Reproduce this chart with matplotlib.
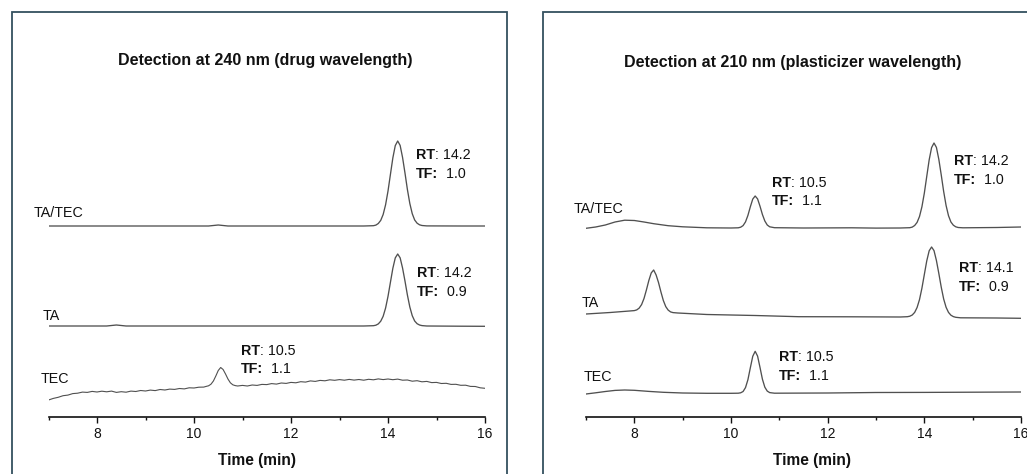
import matplotlib
matplotlib.use("Agg")
import matplotlib.pyplot as plt
from matplotlib.patches import Rectangle

plt.rcParams['font.family'] = ['Liberation Sans', 'DejaVu Sans']

# ---------------- data (time in min, signal in arbitrary stacked units) ----------------
titles = ["Detection at 240 nm (drug wavelength)",
          "Detection at 210 nm (plasticizer wavelength)"]
sample_names = ["TA/TEC", "TA", "TEC"]
x_label = "Time (min)"
x_ticks = [8, 10, 12, 14, 16]

# 240 nm
l_tatec_t = [7.0, 8.0, 9.0, 10.3, 10.5, 10.7, 11.5, 12.5, 13.5,
             13.70, 13.75, 13.80, 13.85, 13.90, 13.95, 14.00, 14.05, 14.10, 14.15, 14.20,
             14.25, 14.30, 14.35, 14.40, 14.45, 14.50, 14.55, 14.60, 14.65, 14.70, 14.80, 15.5, 16.0]
l_tatec_y = [191.0, 191.0, 191.0, 191.0, 192.0, 191.0, 191.0, 191.0, 191.0,
             191.3, 191.9, 193.5, 196.6, 202.5, 212.2, 225.9, 242.6, 259.1, 271.4, 276.0,
             271.6, 259.6, 244.0, 227.5, 213.5, 203.3, 197.0, 193.8, 192.2, 191.5, 191.1, 191.0, 191.0]

l_ta_t = [7.0, 8.2, 8.4, 8.6, 9.5, 10.5, 11.5, 12.5, 13.5,
          13.70, 13.75, 13.80, 13.85, 13.90, 13.95, 14.00, 14.05, 14.10, 14.15, 14.20,
          14.25, 14.30, 14.35, 14.40, 14.45, 14.50, 14.55, 14.60, 14.65, 14.70, 14.80, 15.5, 16.0]
l_ta_y = [91.0, 91.0, 92.0, 91.0, 91.0, 91.0, 91.0, 91.0, 91.0,
          91.3, 91.8, 93.1, 95.8, 100.7, 108.9, 120.6, 134.7, 148.7, 159.1, 163.0,
          159.2, 149.0, 136.0, 122.0, 110.0, 101.3, 96.0, 93.3, 92.0, 91.4, 91.0, 90.8, 90.7]

l_tec_t = [7.0, 7.1, 7.2, 7.3, 7.4, 7.5, 7.6, 7.7, 7.8, 7.9, 8.0, 8.1, 8.2, 8.3, 8.4, 8.5,
           8.6, 8.7, 8.8, 8.9, 9.0, 9.1, 9.2, 9.3, 9.4, 9.5, 9.6, 9.7, 9.8, 9.9, 10.0,
           10.1, 10.2, 10.25, 10.3, 10.35, 10.40, 10.45, 10.50, 10.55, 10.60, 10.65,
           10.70, 10.75, 10.80, 10.85, 10.9, 11.0, 11.1, 11.2, 11.3, 11.4, 11.5, 11.6,
           11.7, 11.8, 11.9, 12.0, 12.1, 12.2, 12.3, 12.4, 12.5, 12.6, 12.7, 12.8, 12.9,
           13.0, 13.1, 13.2, 13.3, 13.4, 13.5, 13.6, 13.7, 13.8, 13.9, 14.0, 14.1, 14.2,
           14.3, 14.4, 14.5, 14.6, 14.7, 14.8, 14.9, 15.0, 15.1, 15.2, 15.3, 15.4, 15.5,
           15.6, 15.7, 15.8, 15.9, 16.0]
l_tec_y = [17.0, 18.6, 19.7, 21.3, 21.9, 23.4, 23.8, 24.9, 24.6, 25.6, 25.0, 25.8, 25.2, 25.9, 24.6, 25.3,
           24.8, 25.9, 25.5, 26.5, 26.0, 26.9, 26.4, 27.5, 27.0, 27.9, 27.6, 28.5, 28.1, 29.2, 29.0,
           29.8, 29.9, 30.6, 31.2, 32.8, 36.0, 41.0, 46.5, 49.5, 47.5, 43.0,
           38.0, 34.2, 32.2, 31.4, 31.0, 31.6, 31.0, 32.0, 31.6, 32.6, 32.4, 33.4,
           32.9, 34.0, 33.6, 34.6, 34.2, 35.3, 34.9, 36.1, 35.6, 36.6, 36.2, 37.2, 36.7,
           37.4, 36.8, 37.6, 36.9, 37.5, 36.8, 37.7, 37.2, 38.1, 37.4, 38.0, 37.3, 37.9,
           36.8, 37.0, 35.8, 36.3, 35.2, 35.6, 34.4, 34.6, 33.5, 33.7, 32.6, 32.7, 31.7,
           31.8, 30.6, 30.5, 29.2, 28.7]

# 210 nm
r_tatec_t = [7.0, 7.2, 7.4, 7.6, 7.8, 8.0, 8.2, 8.4, 8.7, 9.0, 9.5, 10.0, 10.15,
             10.20, 10.25, 10.30, 10.35, 10.40, 10.45, 10.50, 10.55, 10.60, 10.65, 10.70,
             10.75, 10.80, 10.90, 11.5, 12.5, 13.0, 13.5,
             13.70, 13.75, 13.80, 13.85, 13.90, 13.95, 14.00, 14.05, 14.10, 14.15, 14.20,
             14.25, 14.30, 14.35, 14.40, 14.45, 14.50, 14.55, 14.60, 14.65, 14.70, 14.80, 15.5, 16.0]
r_tatec_y = [188.7, 190.0, 192.0, 195.0, 196.8, 196.5, 195.0, 193.3, 191.3, 190.2, 189.2, 189.0, 189.2,
             189.8, 191.4, 195.1, 201.6, 210.2, 217.9, 221.0, 218.1, 210.8, 202.5, 196.0,
             192.0, 190.2, 189.3, 189.0, 189.2, 188.9, 189.0,
             189.3, 189.9, 191.5, 194.6, 200.5, 210.2, 223.9, 240.6, 257.1, 269.4, 274.0,
             269.6, 257.6, 242.0, 225.5, 211.5, 201.3, 195.0, 191.8, 190.2, 189.5, 189.2, 189.5, 190.0]

r_ta_t = [7.0, 7.5, 7.9,
          8.00, 8.05, 8.10, 8.15, 8.20, 8.25, 8.30, 8.35, 8.40, 8.45, 8.50, 8.55, 8.60,
          8.65, 8.70, 8.75, 8.80, 8.90, 9.5, 10.5, 11.4, 12.5, 13.5,
          13.65, 13.70, 13.75, 13.80, 13.85, 13.90, 13.95, 14.00, 14.05, 14.10, 14.15,
          14.20, 14.25, 14.30, 14.35, 14.40, 14.45, 14.50, 14.55, 14.60, 14.65, 14.75, 15.5, 16.0]
r_ta_y = [103.0, 104.5, 106.0,
          106.4, 107.1, 108.9, 112.4, 118.5, 127.1, 136.5, 144.1, 147.0, 142.1, 134.5, 125.1, 116.5,
          110.4, 106.9, 105.1, 104.4, 104.0, 102.5, 101.5, 100.3, 100.2, 100.0,
          100.3, 100.8, 102.0, 104.6, 109.5, 117.4, 128.8, 142.5, 156.1, 166.2, 170.0,
          166.4, 156.5, 143.5, 129.8, 118.0, 109.7, 104.6, 101.8, 100.4, 99.7, 99.2, 99.0, 98.7]

r_tec_t = [7.0, 7.2, 7.4, 7.6, 7.8, 8.0, 8.3, 8.6, 9.0, 9.5, 10.0, 10.15,
           10.20, 10.25, 10.30, 10.35, 10.40, 10.45, 10.50, 10.55, 10.60, 10.65, 10.70,
           10.75, 10.80, 10.90, 12.0, 13.0, 14.0, 15.0, 16.0]
r_tec_y = [23.0, 24.2, 25.5, 26.6, 27.0, 26.7, 25.6, 24.7, 24.0, 23.7, 23.7, 23.8,
           24.2, 25.5, 29.4, 37.3, 49.2, 60.7, 65.7, 60.9, 49.6, 37.8, 29.8,
           25.9, 24.4, 23.8, 24.0, 24.5, 24.6, 24.8, 25.0]

# peak annotations: retention time and tailing factor
l_rt = ["14.2", "14.2", "10.5"]
l_tf = ["1.0", "0.9", "1.1"]
r_rt = ["10.5", "14.2", "14.1", "10.5"]
r_tf = ["1.1", "1.0", "0.9", "1.1"]

# ---------------- layout ----------------
W, H = 1027, 474
fig = plt.figure(figsize=(W / 100, H / 100), dpi=100)
fig.patch.set_facecolor('white')

frame_col = '#34505f'
fig.patches.append(Rectangle((11.7 / W, -0.1), 495 / W, (H - 12.3) / H + 0.1,
                             transform=fig.transFigure, fill=False,
                             edgecolor=frame_col, linewidth=1.3))
fig.patches.append(Rectangle((542.7 / W, -0.1), 0.6, (H - 12.0) / H + 0.1,
                             transform=fig.transFigure, fill=False,
                             edgecolor=frame_col, linewidth=1.3))

y_bottom = 417
y_top = 100
axL = fig.add_axes([48.5 / W, (H - y_bottom) / H, (485 - 48.5) / W, (y_bottom - y_top) / H])
axR = fig.add_axes([586 / W, (H - y_bottom) / H, (1021 - 586) / W, (y_bottom - y_top) / H])

line_col = '#505050'
text_col = '#111111'

for ax in (axL, axR):
    ax.set_xlim(7, 16)
    ax.set_ylim(0, y_bottom - y_top)
    ax.patch.set_alpha(0)
    for s in ('top', 'right', 'left'):
        ax.spines[s].set_visible(False)
    ax.spines['bottom'].set_linewidth(1.2)
    ax.spines['bottom'].set_color('#111111')
    ax.set_yticks([])
    ax.set_xticks(x_ticks)
    ax.set_xticks([7, 9, 11, 13, 15], minor=True)
    ax.tick_params(axis='x', which='major', direction='out', length=4.5, width=1.0,
                   labelsize=10, pad=2.5, colors='#111111')
    ax.tick_params(axis='x', which='minor', direction='out', length=2.2, width=1.0,
                   colors='#111111')

axL.plot(l_tatec_t, l_tatec_y, color=line_col, lw=0.95)
axL.plot(l_ta_t, l_ta_y, color=line_col, lw=0.95)
axL.plot(l_tec_t, l_tec_y, color=line_col, lw=0.8)

axR.plot(r_tatec_t, r_tatec_y, color=line_col, lw=0.95)
axR.plot(r_ta_t, r_ta_y, color=line_col, lw=0.95)
axR.plot(r_tec_t, r_tec_y, color=line_col, lw=0.95)

fs = 10.3
# sample labels
for ax, pos in ((axL, [(6.70, 204), (6.88, 101), (6.84, 38)]),
                (axR, [(6.75, 208), (6.91, 114), (6.96, 40)])):
    for name, (x, y) in zip(sample_names, pos):
        ax.text(x, y, name, fontsize=fs, ha='left', va='center', color=text_col, clip_on=False)


def mixed(ax, x, y, bold, normal):
    t = ax.text(x, y, bold, fontsize=fs, fontweight='bold', ha='left', va='center',
                color=text_col, clip_on=False)
    ax.annotate(normal, xy=(1, 0), xycoords=t, ha='left', va='bottom',
                fontsize=fs, color=text_col, annotation_clip=False)


# RT / TF annotations
l_pos = [(14.58, 262, 243), (14.60, 144, 125), (10.97, 66, 48)]
r_pos = [(10.84, 234, 216), (14.61, 256, 237), (14.72, 149, 130), (11.00, 60, 41)]
for ax, rts, tfs, pos in ((axL, l_rt, l_tf, l_pos), (axR, r_rt, r_tf, r_pos)):
    for rt, tf, (x, y1, y2) in zip(rts, tfs, pos):
        mixed(ax, x, y1, "RT", ": " + rt)
        mixed(ax, x, y2, "TF:", "  " + tf)

# titles and x labels
fig.text(265 / W, 1 - 60 / H, titles[0], fontsize=11.5, fontweight='bold',
         ha='center', va='center', color=text_col)
fig.text(793 / W, 1 - 62 / H, titles[1], fontsize=11.5, fontweight='bold',
         ha='center', va='center', color=text_col)
fig.text(257 / W, 1 - 461 / H, x_label, fontsize=11.2, fontweight='bold',
         ha='center', va='center', color=text_col)
fig.text(812 / W, 1 - 461 / H, x_label, fontsize=11.2, fontweight='bold',
         ha='center', va='center', color=text_col)

fig.savefig('out.png', dpi=100, facecolor='white')
